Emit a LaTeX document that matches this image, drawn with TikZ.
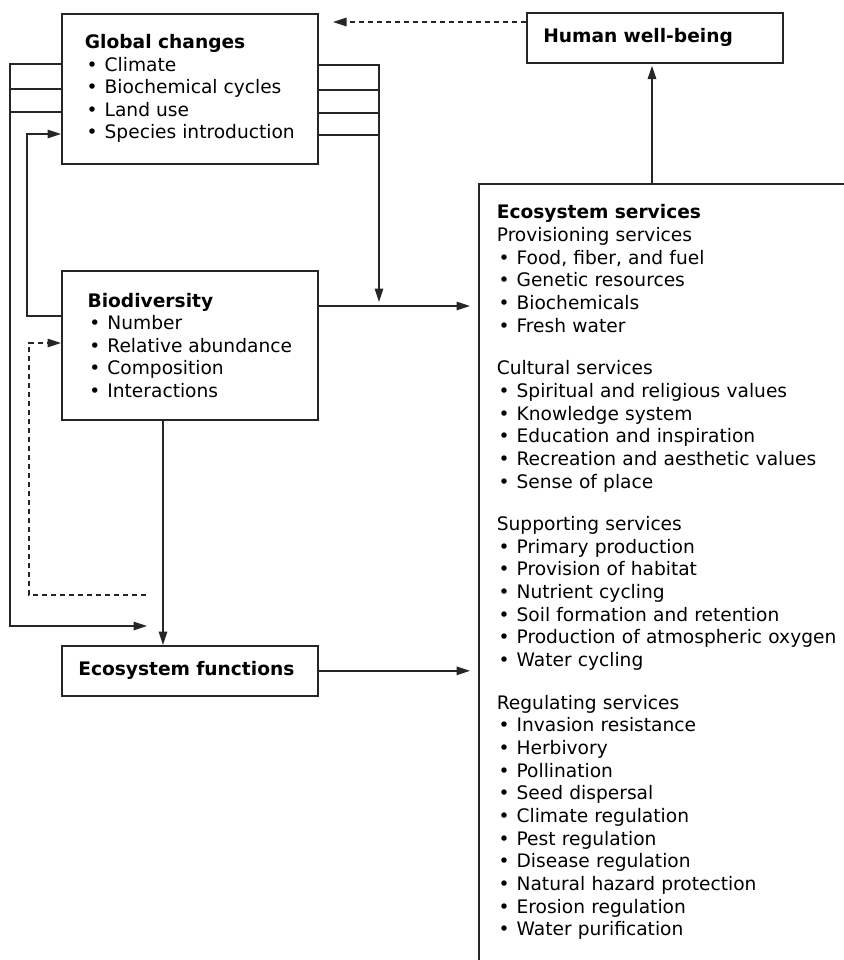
\documentclass[tikz,border=0pt]{standalone}
\usepackage{fontspec}
\setmainfont{DejaVu Sans}
\usetikzlibrary{arrows.meta}

\newcommand{\itm}{\hspace*{1pt}\textbullet\hspace{4pt}}

\begin{document}
\begin{tikzpicture}[x=0.02cm, y=-0.02cm,
  >={Triangle[length=0.27cm, width=0.17cm]},
  box/.style={rectangle, draw=black!85, align=left,
    font=\fontsize{10.6}{12.8}\selectfont},
  %
  listbox/.style={box, minimum width=5.12cm, inner sep=0pt},
  %
  titlebox/.style={box, minimum height=1cm, text width=4.46cm,
    inner xsep=0.33cm, inner ysep=0pt,
    font=\fontsize{10.6}{12.8}\selectfont\bfseries},
  %
  link/.style={draw=black!85, ->},
  %
  feedback/.style={link, dash pattern=on 0.1cm off 0.08cm}
  ]

  \tikzset{every path/.style={line width=.95pt}}
  \useasboundingbox (0,0) rectangle (844,960);

  \begin{scope}
    \node [listbox, minimum height=3cm, anchor=north west] (gc) at (61,13) {
      \textbf{Global changes}\\
      \itm Climate\\
      \itm Biochemical cycles\\
      \itm Land use\\
      \itm Species introduction};
    %%%%%%%%%%%%%%%%%%%%%%%%%%%%%%%
    \node [listbox, minimum height=2.98cm, anchor=north west] (bio) at (61,270) {
      \textbf{Biodiversity}\\
      \itm Number\\
      \itm Relative abundance\\
      \itm Composition\\
      \itm Interactions};
    %%%%%%%%%%%%%%%%%%%%%%%%%%%%%%%
    \node [titlebox, anchor=north west] (ef) at (61,645) {Ecosystem functions};
    \node [titlebox, anchor=north west] (hwb) at (526,12) {Human well-being};
    %%%%%%%%%%%%%%%%%%%%%%%%%%%%%%%
    \node [align=left, anchor=north west, text width=7.2cm,
      inner xsep=0.34cm, inner ysep=0.4cm,
      font=\fontsize{10.6}{12.9}\selectfont] (svc) at (479,184) {
      \textbf{Ecosystem services}\\
      Provisioning services\\
      \itm Food, fiber, and fuel\\
      \itm Genetic resources\\
      \itm Biochemicals\\
      \itm Fresh water\\[11.3pt]
      Cultural services\\
      \itm Spiritual and religious values\\
      \itm Knowledge system\\
      \itm Education and inspiration\\
      \itm Recreation and aesthetic values\\
      \itm Sense of place\\[11.3pt]
      Supporting services\\
      \itm Primary production\\
      \itm Provision of habitat\\
      \itm Nutrient cycling\\
      \itm Soil formation and retention\\
      \itm Production of atmospheric oxygen\\
      \itm Water cycling\\[11.3pt]
      Regulating services\\
      \itm Invasion resistance\\
      \itm Herbivory\\
      \itm Pollination\\
      \itm Seed dispersal\\
      \itm Climate regulation\\
      \itm Pest regulation\\
      \itm Disease regulation\\
      \itm Natural hazard protection\\
      \itm Erosion regulation\\
      \itm Water purification};
    % the services box runs off the page
    \draw [black!85] (svc.north west) rectangle (900,1000);
  \end{scope}

  \coordinate (fin) at (147,626);
  \coordinate (dfree) at (146,595);
  \coordinate (hfree) at (333,22);
  \coordinate (bout) at (bio.east |- 0,306);

  \begin{scope}
    % global changes -> functions
    \draw [link] (gc.west |- 0,64) -| (10,626) -- (fin);
    \foreach \y in {89,112}
      \draw [black!85] (gc.west |- 0,\y) -- (10,\y);
    % global changes -> services
    \draw [link, shorten >=0.08cm] (gc.east |- 0,65) -| (379,0 |- bout);
    \foreach \y in {90,113,135}
      \draw [black!85] (gc.east |- 0,\y) -- (379,\y);
    % biodiversity
    \draw [link] (bio.west |- 0,316) -| (27,134) -- (gc.west |- 0,134);
    \draw [link, shorten >=0.18cm] (bout) -- (bout -| svc.west);
    \draw [link] (bio.south -| 163,0) -- (ef.north -| 163,0);
    \draw [feedback] (dfree) -| (29,343) -- (bio.west |- 0,343);
    % functions and services
    \draw [link, shorten >=0.18cm] (ef.east) -- (ef.east -| svc.west);
    \draw [link, shorten >=0.04cm] (svc.north -| 652,0) -- (hwb.south -| 652,0);
    \draw [feedback] (hwb.west |- 0,22) -- (hfree);
  \end{scope}

\end{tikzpicture}
\end{document}
